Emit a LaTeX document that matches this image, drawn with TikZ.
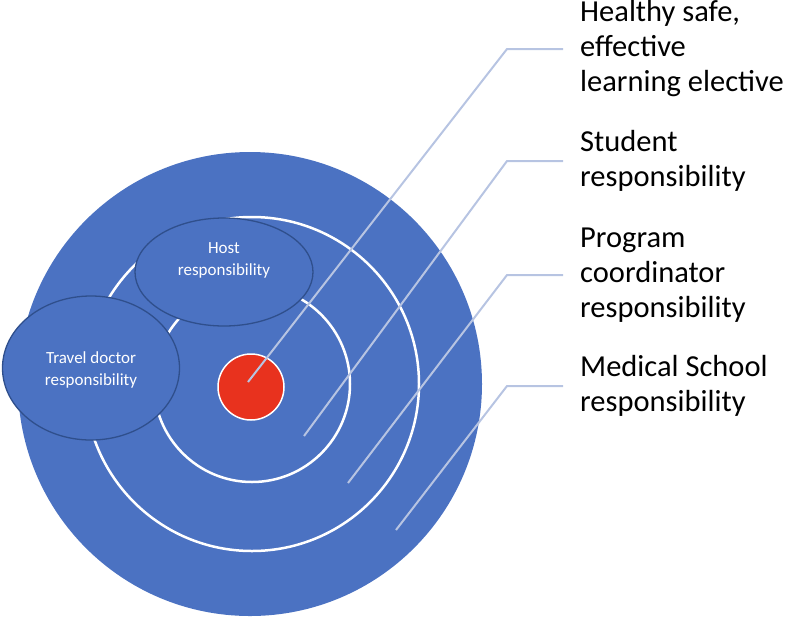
\documentclass[tikz,border=0pt]{standalone}
\usepackage{fontspec}
\setmainfont{Carlito}
\usetikzlibrary{shapes.geometric}
\definecolor{ringblue}{HTML}{4B72C2}
\definecolor{rimblue}{HTML}{2F4F8C}
\definecolor{dotred}{HTML}{E8321E}
\definecolor{leadblue}{HTML}{B7C4E2}

\begin{document}
\begin{tikzpicture}[x=1pt,y=-1pt,
  bubble/.style={ellipse,draw=rimblue,line width=1.3pt,fill=ringblue,inner sep=0pt},
  bubbletext/.style={text=white,align=center,font=\fontsize{17}{22}\selectfont},
  lead/.style={leadblue,line width=2pt},
  tag/.style={anchor=west,align=left,inner sep=0pt,font=\fontsize{30.5}{35}\selectfont}]
\useasboundingbox (0,0) rectangle (787,622);
\fill[ringblue] (250,384) circle (232pt);
\draw[white,line width=2.5pt] (252,384) circle (167pt);
\draw[white,line width=2.5pt] (252,384) circle (98pt);
\node[circle,fill=dotred,draw=white,line width=1.5pt,minimum size=66pt,inner sep=0pt] (dot) at (251,387) {};
\node[bubble,minimum width=178pt,minimum height=108pt] (host) at (224,272) {};
\node[bubbletext] at ([yshift=12pt]host.center) {Host\\responsibility};
\node[bubble,minimum width=177pt,minimum height=144pt] (travel) at (91,368) {};
\node[bubbletext] at ([yshift=-2pt]travel.center) {Travel doctor\\responsibility};
\node[tag] (t1) at (580,49) {Healthy safe,\\effective\\learning elective};
\node[tag] (t2) at (580,161) {Student\\responsibility};
\node[tag] (t3) at (580,275) {Program\\coordinator\\responsibility};
\node[tag] (t4) at (580,386) {Medical School\\responsibility};
\coordinate (p1) at (248,382); \coordinate (k1) at (507,49);
\coordinate (p2) at (304,436); \coordinate (k2) at (507,161);
\coordinate (p3) at (348,483); \coordinate (k3) at (507,275);
\coordinate (p4) at (396,530); \coordinate (k4) at (507,386);
\draw[lead] (p1) -- (k1) -- ([xshift=-17pt]t1.west);
\draw[lead] (p2) -- (k2) -- ([xshift=-17pt]t2.west);
\draw[lead] (p3) -- (k3) -- ([xshift=-17pt]t3.west);
\draw[lead] (p4) -- (k4) -- ([xshift=-17pt]t4.west);
\end{tikzpicture}
\end{document}
